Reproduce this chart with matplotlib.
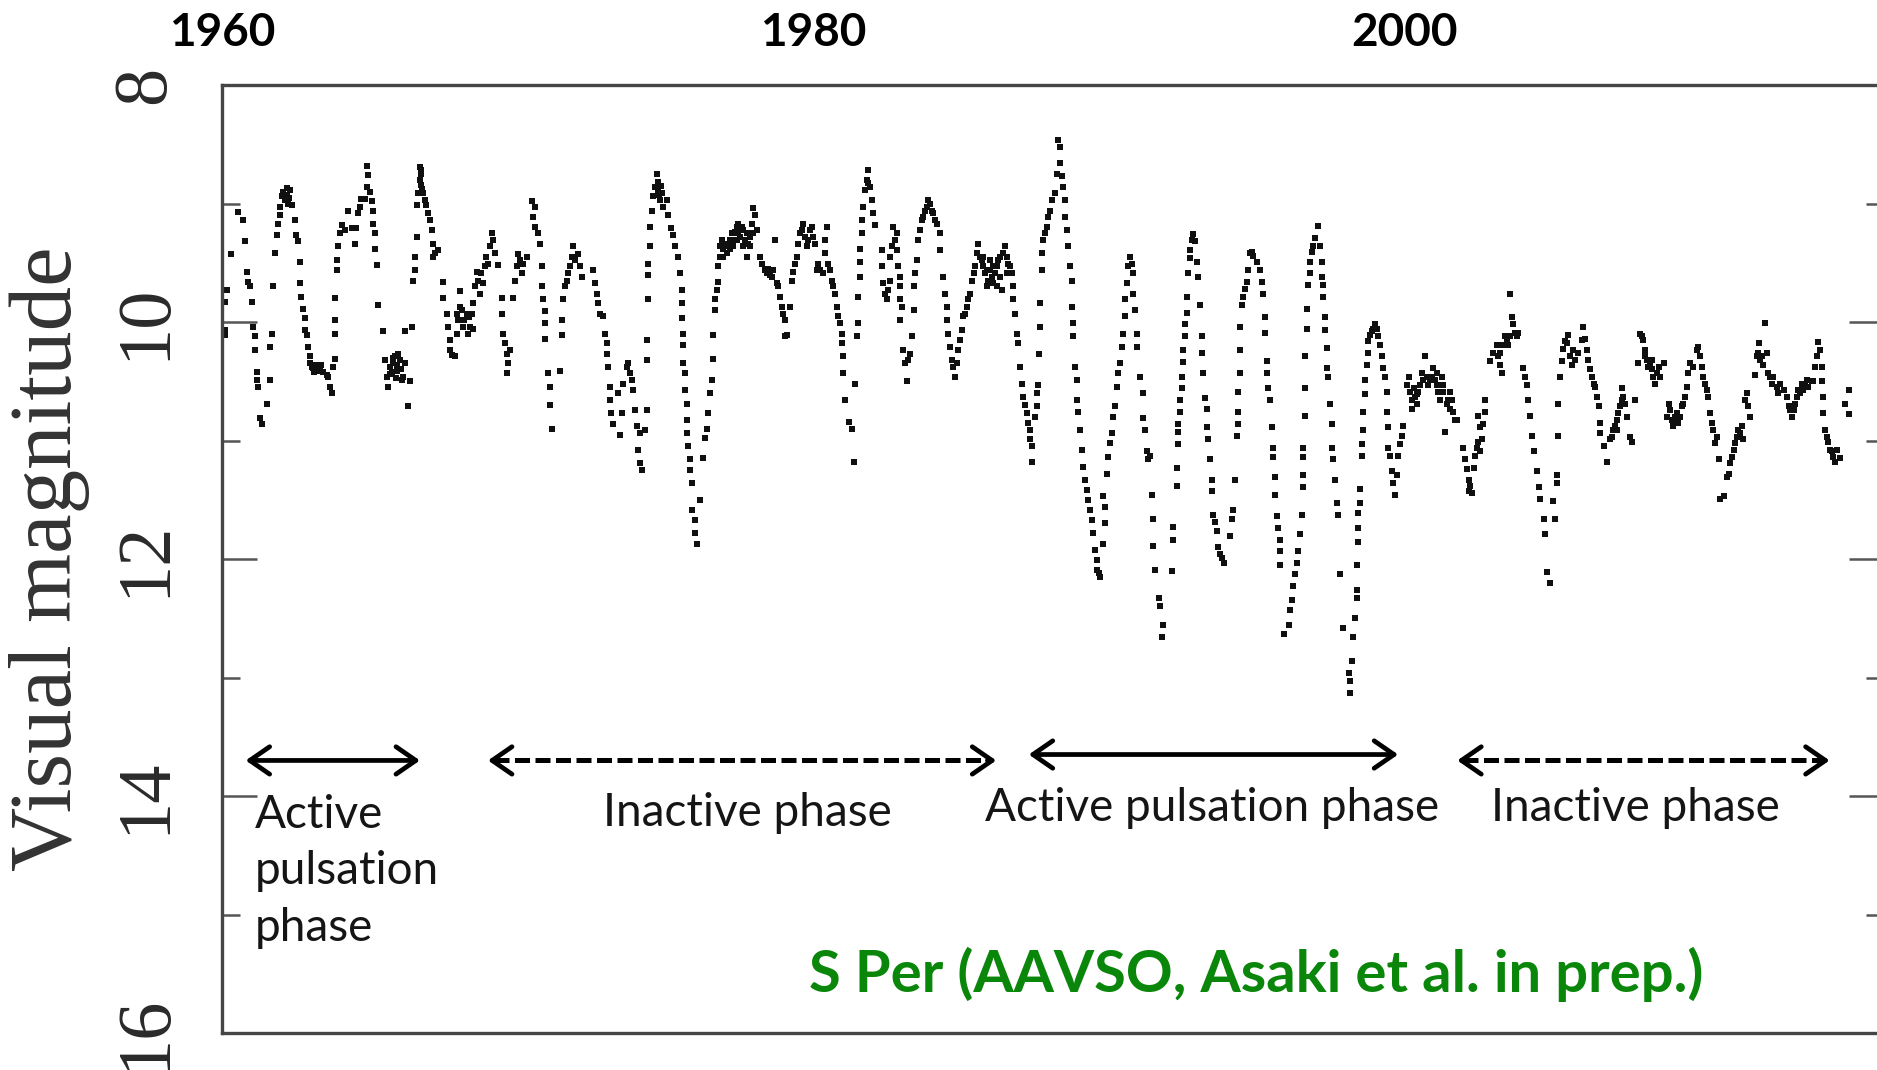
import matplotlib
matplotlib.use("Agg")
import matplotlib.pyplot as plt
import numpy as np

# S Per visual light curve: (year, visual magnitude)
lc_1960 = [
    (1960.10, 9.83), (1960.10, 10.07), (1960.10, 10.11), (1960.16, 9.73), (1960.32, 9.43),
    (1960.55, 9.07), (1960.72, 9.14), (1960.78, 9.32), (1960.83, 9.58), (1960.89, 9.66),
    (1960.95, 9.70), (1961.00, 9.83), (1961.06, 10.04), (1961.11, 10.12), (1961.11, 10.24),
    (1961.17, 10.42), (1961.17, 10.49), (1961.23, 10.55), (1961.28, 10.81), (1961.34, 10.86),
    (1961.51, 10.69), (1961.62, 10.49), (1961.62, 10.21), (1961.68, 10.10), (1961.73, 9.70),
    (1961.79, 9.42), (1961.85, 9.27), (1961.90, 9.17), (1961.96, 9.10), (1961.96, 9.03),
    (1962.02, 8.94), (1962.07, 8.90), (1962.13, 8.97), (1962.19, 8.93), (1962.20, 8.87),
    (1962.24, 9.00), (1962.26, 8.95), (1962.30, 8.89), (1962.36, 9.01), (1962.47, 9.14),
    (1962.52, 9.27), (1962.58, 9.32), (1962.64, 9.49), (1962.64, 9.67), (1962.69, 9.79),
    (1962.75, 9.89), (1962.81, 9.97), (1962.81, 10.07), (1962.86, 10.11), (1962.92, 10.21),
    (1962.98, 10.29), (1962.98, 10.35), (1963.03, 10.38), (1963.09, 10.39), (1963.12, 10.42),
    (1963.14, 10.36), (1963.20, 10.38), (1963.26, 10.39), (1963.31, 10.41), (1963.36, 10.36),
    (1963.43, 10.42), (1963.54, 10.45), (1963.60, 10.46), (1963.65, 10.55), (1963.71, 10.60),
    (1963.77, 10.38), (1963.82, 10.31), (1963.82, 10.10), (1963.82, 9.98), (1963.82, 9.80),
    (1963.88, 9.56), (1963.88, 9.48), (1963.93, 9.36), (1963.99, 9.25), (1964.05, 9.18),
    (1964.16, 9.22), (1964.27, 9.06), (1964.39, 9.21), (1964.50, 9.34), (1964.55, 9.21),
    (1964.61, 9.08), (1964.67, 9.03), (1964.72, 8.96), (1964.84, 8.96), (1964.89, 8.86),
    (1964.95, 8.76), (1964.89, 8.68), (1965.01, 8.90), (1965.06, 8.98), (1965.12, 9.06),
    (1965.12, 9.17), (1965.18, 9.25), (1965.18, 9.38), (1965.23, 9.52), (1965.29, 9.86),
    (1965.46, 10.08), (1965.51, 10.32), (1965.57, 10.46), (1965.63, 10.55), (1965.68, 10.38),
    (1965.70, 10.44), (1965.74, 10.42), (1965.77, 10.30), (1965.80, 10.35), (1965.85, 10.29),
    (1965.88, 10.47), (1965.91, 10.41), (1965.93, 10.36), (1965.96, 10.27), (1966.02, 10.32),
    (1966.05, 10.40), (1966.08, 10.49), (1966.13, 10.46), (1966.19, 10.35), (1966.19, 10.08),
    (1966.30, 10.71), (1966.36, 10.50), (1966.42, 10.04), (1966.47, 9.65), (1966.53, 9.56),
    (1966.53, 9.45), (1966.59, 9.28), (1966.59, 9.01), (1966.64, 8.91), (1966.70, 8.80),
    (1966.70, 8.69), (1966.72, 8.72), (1966.75, 8.75), (1966.75, 8.84), (1966.78, 8.88),
    (1966.81, 8.91), (1966.87, 8.97), (1966.92, 9.01), (1966.98, 9.08), (1967.04, 9.14),
    (1967.09, 9.22), (1967.15, 9.34), (1967.15, 9.45), (1967.21, 9.42), (1967.32, 9.39),
]

lc_1967 = [
    (1967.49, 9.66), (1967.49, 9.80), (1967.60, 9.93), (1967.66, 10.04), (1967.71, 10.15),
    (1967.71, 10.24), (1967.77, 10.28), (1967.88, 10.29), (1967.94, 10.10), (1967.94, 9.93),
    (1967.99, 9.98), (1968.05, 9.87), (1968.05, 9.74), (1968.11, 9.90), (1968.16, 10.04),
    (1968.20, 9.98), (1968.28, 9.93), (1968.33, 10.10), (1968.36, 9.96), (1968.39, 10.04),
    (1968.45, 9.93), (1968.48, 10.06), (1968.50, 9.84), (1968.56, 9.70), (1968.62, 9.58),
    (1968.67, 9.65), (1968.73, 9.76), (1968.78, 9.59), (1968.84, 9.67), (1968.90, 9.53),
    (1968.95, 9.45), (1969.01, 9.51), (1969.07, 9.36), (1969.12, 9.25), (1969.18, 9.31),
    (1969.24, 9.42), (1969.35, 9.52), (1969.46, 9.80), (1969.46, 9.93), (1969.52, 10.10),
    (1969.57, 10.18), (1969.63, 10.27), (1969.69, 10.35), (1969.63, 10.43), (1969.74, 10.24),
    (1969.86, 9.80), (1969.91, 9.65), (1969.97, 9.53), (1970.03, 9.43), (1970.08, 9.48),
    (1970.14, 9.59), (1970.20, 9.51), (1970.31, 9.45), (1970.48, 8.98), (1970.59, 9.03),
    (1970.53, 9.11), (1970.59, 9.20), (1970.70, 9.25), (1970.76, 9.34), (1970.82, 9.53),
    (1970.82, 9.70), (1970.87, 9.81), (1970.93, 9.91), (1970.93, 10.01), (1970.93, 10.14),
    (1971.04, 10.43), (1971.10, 10.55), (1971.10, 10.70), (1971.15, 10.90), (1971.44, 10.41),
    (1971.49, 10.11), (1971.49, 9.98), (1971.55, 9.81), (1971.60, 9.70), (1971.66, 9.65),
    (1971.72, 9.59), (1971.77, 9.53), (1971.83, 9.45), (1971.89, 9.36), (1971.94, 9.48),
    (1972.06, 9.43), (1972.11, 9.53), (1972.17, 9.62), (1972.56, 9.56), (1972.62, 9.67),
    (1972.68, 9.76), (1972.73, 9.84), (1972.79, 9.93), (1972.90, 9.95), (1972.96, 10.10),
    (1973.02, 10.18), (1973.02, 10.27), (1973.07, 10.38), (1973.13, 10.55), (1973.13, 10.66),
    (1973.18, 10.77), (1973.24, 10.86), (1973.41, 10.60), (1973.47, 10.95), (1973.52, 10.77),
    (1973.58, 10.52), (1973.69, 10.38), (1973.75, 10.35), (1973.80, 10.43), (1973.86, 10.49),
    (1973.92, 10.57), (1973.97, 10.74), (1974.03, 10.88), (1974.14, 10.94), (1974.09, 11.08),
    (1974.14, 11.19), (1974.20, 11.25), (1974.31, 10.91), (1974.37, 10.74), (1974.37, 10.32),
    (1974.37, 10.15), (1974.42, 9.81), (1974.42, 9.60), (1974.42, 9.51), (1974.48, 9.36),
    (1974.48, 9.20), (1974.54, 9.06), (1974.59, 8.94), (1974.65, 8.86), (1974.71, 8.75),
    (1974.74, 8.82), (1974.76, 8.89), (1974.80, 8.93), (1974.82, 8.97), (1974.86, 8.85),
    (1974.88, 8.91), (1974.93, 9.03), (1975.05, 8.97), (1975.10, 9.10), (1975.21, 9.21),
    (1975.27, 9.27), (1975.33, 9.36), (1975.44, 9.45), (1975.50, 9.59), (1975.55, 9.73),
    (1975.55, 9.84), (1975.55, 9.97), (1975.61, 10.10), (1975.61, 10.19), (1975.61, 10.35),
    (1975.66, 10.43), (1975.66, 10.57), (1975.72, 10.69), (1975.72, 10.83), (1975.72, 10.94),
    (1975.78, 11.05), (1975.83, 11.16), (1975.83, 11.25), (1975.89, 11.36), (1975.89, 11.59),
    (1976.00, 11.67), (1976.00, 11.78), (1976.06, 11.87), (1976.17, 11.50), (1976.29, 11.15),
    (1976.34, 10.98), (1976.40, 10.90), (1976.46, 10.77), (1976.51, 10.60), (1976.57, 10.49),
]

lc_1977 = [
    (1976.63, 10.31), (1976.63, 10.11), (1976.68, 9.90), (1976.68, 9.81), (1976.74, 9.73),
    (1976.80, 9.66), (1976.80, 9.53), (1976.85, 9.45), (1976.85, 9.36), (1976.91, 9.31),
    (1976.97, 9.38), (1976.97, 9.45), (1977.02, 9.34), (1977.08, 9.42), (1977.13, 9.36),
    (1977.19, 9.31), (1977.19, 9.38), (1977.25, 9.25), (1977.30, 9.31), (1977.30, 9.36),
    (1977.36, 9.24), (1977.42, 9.20), (1977.42, 9.31), (1977.47, 9.25), (1977.47, 9.17),
    (1977.53, 9.28), (1977.59, 9.20), (1977.64, 9.22), (1977.64, 9.36), (1977.70, 9.31),
    (1977.75, 9.25), (1977.75, 9.45), (1977.81, 9.34), (1977.87, 9.28), (1977.87, 9.36),
    (1977.92, 9.17), (1977.98, 9.25), (1977.98, 9.04), (1978.04, 9.10), (1978.09, 9.22),
    (1978.21, 9.45), (1978.26, 9.51), (1978.38, 9.56), (1978.43, 9.59), (1978.49, 9.55),
    (1978.54, 9.60), (1978.60, 9.62), (1978.66, 9.56), (1978.71, 9.31), (1978.77, 9.67),
    (1978.83, 9.70), (1978.88, 9.79), (1978.94, 9.87), (1978.98, 9.93), (1979.05, 9.98),
    (1979.05, 10.12), (1979.11, 10.11), (1979.22, 9.87), (1979.28, 9.65), (1979.33, 9.58),
    (1979.39, 9.51), (1979.45, 9.45), (1979.50, 9.34), (1979.56, 9.25), (1979.62, 9.22),
    (1979.67, 9.17), (1979.73, 9.28), (1979.79, 9.36), (1979.84, 9.31), (1979.90, 9.22),
    (1979.96, 9.20), (1980.01, 9.28), (1980.07, 9.34), (1980.12, 9.56), (1980.18, 9.51),
    (1980.24, 9.56), (1980.35, 9.59), (1980.41, 9.42), (1980.41, 9.31), (1980.46, 9.20),
    (1980.52, 9.51), (1980.58, 9.56), (1980.63, 9.65), (1980.69, 9.70), (1980.74, 9.76),
    (1980.80, 9.87), (1980.86, 9.95), (1980.91, 10.01), (1980.97, 10.10), (1980.97, 10.18),
    (1981.03, 10.29), (1981.03, 10.43), (1981.08, 10.66), (1981.20, 10.84), (1981.31, 10.90),
    (1981.37, 11.18), (1981.42, 10.52), (1981.48, 10.12), (1981.53, 10.01), (1981.53, 9.79),
    (1981.59, 9.62), (1981.59, 9.49), (1981.59, 9.38), (1981.65, 9.25), (1981.65, 9.14),
    (1981.70, 9.03), (1981.76, 8.89), (1981.82, 8.80), (1981.87, 8.72), (1981.87, 8.83),
    (1981.93, 8.86), (1981.98, 8.97), (1982.04, 9.08), (1982.10, 9.18), (1982.32, 9.39),
    (1982.32, 9.53), (1982.38, 9.67), (1982.44, 9.76), (1982.49, 9.81), (1982.55, 9.73),
    (1982.61, 9.65), (1982.61, 9.45), (1982.66, 9.36), (1982.72, 9.20), (1982.78, 9.31),
    (1982.83, 9.25), (1982.83, 9.39), (1982.89, 9.53), (1982.94, 9.62), (1982.94, 9.70),
    (1982.94, 9.81), (1983.00, 9.87), (1982.94, 9.98), (1983.06, 10.24), (1983.11, 10.35),
    (1983.17, 10.50), (1983.23, 10.32), (1983.28, 10.27), (1983.34, 10.12), (1983.40, 9.90),
    (1983.40, 9.70), (1983.45, 9.59), (1983.51, 9.48), (1983.56, 9.31), (1983.62, 9.22),
    (1983.68, 9.14), (1983.73, 9.11), (1983.79, 9.06), (1983.85, 9.03), (1983.90, 8.97),
    (1983.96, 9.00), (1984.02, 9.06), (1984.07, 9.08), (1984.13, 9.14), (1984.18, 9.17),
    (1984.30, 9.25), (1984.30, 9.39), (1984.41, 9.62), (1984.47, 9.76), (1984.52, 9.87),
    (1984.52, 9.98), (1984.58, 10.10), (1984.64, 10.21), (1984.69, 10.32), (1984.75, 10.38),
    (1984.81, 10.46), (1984.86, 10.35), (1984.92, 10.24), (1984.97, 10.15), (1985.03, 10.07),
    (1985.09, 9.95), (1985.14, 9.93), (1985.20, 9.87), (1985.26, 9.81), (1985.31, 9.76),
    (1985.37, 9.65), (1985.43, 9.59), (1985.48, 9.53), (1985.54, 9.42), (1985.59, 9.34),
    (1985.65, 9.45), (1985.71, 9.48), (1985.76, 9.53), (1985.76, 9.45), (1985.82, 9.59),
    (1985.88, 9.70), (1985.88, 9.56), (1985.93, 9.65), (1985.99, 9.56), (1985.99, 9.48),
    (1986.05, 9.62), (1986.10, 9.67), (1986.10, 9.53), (1986.16, 9.59), (1986.22, 9.53),
    (1986.22, 9.70), (1986.27, 9.48), (1986.33, 9.62), (1986.33, 9.45), (1986.38, 9.73),
    (1986.44, 9.42), (1986.50, 9.36), (1986.55, 9.45), (1986.55, 9.59), (1986.61, 9.51),
    (1986.67, 9.53), (1986.72, 9.59), (1986.78, 9.70), (1986.78, 9.81), (1986.84, 9.93),
    (1986.89, 10.10), (1986.95, 10.18), (1987.00, 10.38),
]

lc_1987 = [
    (1987.06, 10.52), (1987.12, 10.63), (1987.17, 10.70), (1987.23, 10.77), (1987.29, 10.85),
    (1987.34, 10.91), (1987.34, 10.99), (1987.40, 11.05), (1987.40, 11.18), (1987.51, 10.80),
    (1987.57, 10.71), (1987.57, 10.60), (1987.62, 10.53), (1987.63, 10.27), (1987.68, 10.04),
    (1987.68, 9.84), (1987.74, 9.56), (1987.74, 9.42), (1987.79, 9.31), (1987.85, 9.25),
    (1987.91, 9.20), (1987.96, 9.11), (1988.02, 9.06), (1988.08, 8.97), (1988.19, 8.91),
    (1988.25, 8.75), (1988.30, 8.46), (1988.36, 8.52), (1988.36, 8.66), (1988.42, 8.77),
    (1988.47, 8.86), (1988.53, 8.97), (1988.53, 9.11), (1988.58, 9.22), (1988.64, 9.36),
    (1988.70, 9.53), (1988.75, 9.65), (1988.75, 9.87), (1988.81, 10.01), (1988.81, 10.12),
    (1988.87, 10.38), (1988.92, 10.49), (1988.94, 10.66), (1988.98, 10.76), (1989.02, 10.91),
    (1989.09, 11.08), (1989.15, 11.22), (1989.20, 11.33), (1989.26, 11.42), (1989.32, 11.50),
    (1989.37, 11.59), (1989.43, 11.67), (1989.49, 11.78), (1989.54, 11.92), (1989.60, 12.01),
    (1989.60, 12.09), (1989.66, 12.12), (1989.71, 12.15), (1989.82, 11.87), (1989.88, 11.70),
    (1989.88, 11.56), (1989.82, 11.47), (1989.94, 11.28), (1989.99, 11.14), (1990.05, 11.02),
    (1990.11, 10.94), (1990.16, 10.80), (1990.22, 10.71), (1990.28, 10.55), (1990.33, 10.43),
    (1990.39, 10.35), (1990.45, 10.21), (1990.50, 10.10), (1990.56, 9.95), (1990.56, 9.81),
    (1990.61, 9.67), (1990.67, 9.53), (1990.73, 9.45), (1990.78, 9.51), (1990.84, 9.59),
    (1990.84, 9.76), (1990.90, 9.90), (1990.95, 10.10), (1990.95, 10.21), (1991.07, 10.46),
    (1991.18, 10.60), (1991.18, 10.81), (1991.24, 10.91), (1991.29, 11.09), (1991.35, 11.16),
]

lc_1991 = [
    (1991.40, 11.13), (1991.46, 11.46), (1991.52, 11.66), (1991.52, 11.89), (1991.57, 12.09),
    (1991.69, 12.33), (1991.74, 12.40), (1991.85, 12.56), (1991.80, 12.66), (1992.14, 12.10),
    (1992.19, 11.84), (1992.19, 11.73), (1992.31, 11.38), (1992.31, 11.23), (1992.36, 11.03),
    (1992.36, 10.93), (1992.36, 10.86), (1992.42, 10.76), (1992.42, 10.66), (1992.48, 10.56),
    (1992.48, 10.46), (1992.53, 10.34), (1992.53, 10.24), (1992.59, 10.12), (1992.59, 10.02),
    (1992.64, 9.92), (1992.64, 9.79), (1992.70, 9.59), (1992.76, 9.46), (1992.76, 9.39),
    (1992.81, 9.31), (1992.87, 9.26), (1992.93, 9.32), (1992.98, 9.49), (1993.04, 9.62),
    (1993.10, 9.86), (1993.15, 10.12), (1993.15, 10.26), (1993.21, 10.43), (1993.27, 10.64),
    (1993.32, 10.73), (1993.32, 10.89), (1993.38, 10.99), (1993.43, 11.16), (1993.49, 11.33),
    (1993.49, 11.43), (1993.55, 11.63), (1993.60, 11.69), (1993.66, 11.76), (1993.72, 11.90),
    (1993.77, 11.96), (1993.83, 11.99), (1993.89, 12.03), (1994.11, 11.81), (1994.17, 11.66),
    (1994.22, 11.59), (1994.28, 11.33), (1994.34, 10.96), (1994.39, 10.86), (1994.39, 10.76),
    (1994.39, 10.59), (1994.45, 10.43), (1994.45, 10.24), (1994.45, 10.04), (1994.51, 9.86),
    (1994.56, 9.79), (1994.62, 9.72), (1994.68, 9.66), (1994.73, 9.56), (1994.79, 9.42),
    (1994.84, 9.41), (1994.90, 9.44), (1995.01, 9.49), (1995.13, 9.56), (1995.18, 9.66),
    (1995.24, 9.76), (1995.30, 9.96), (1995.30, 10.09), (1995.35, 10.33), (1995.35, 10.43),
    (1995.41, 10.56), (1995.46, 10.66), (1995.52, 10.89), (1995.58, 11.06), (1995.58, 11.14),
    (1995.63, 11.31), (1995.63, 11.46), (1995.69, 11.64), (1995.75, 11.74), (1995.80, 11.84),
    (1995.80, 11.93), (1995.80, 12.05), (1995.92, 12.63), (1996.09, 12.56), (1996.14, 12.43),
    (1996.20, 12.35), (1996.25, 12.23), (1996.31, 12.13), (1996.37, 12.03), (1996.42, 11.93),
    (1996.48, 11.79), (1996.54, 11.63), (1996.59, 11.39), (1996.59, 11.29), (1996.59, 11.14),
    (1996.59, 11.06), (1996.65, 10.79), (1996.65, 10.56), (1996.65, 10.29), (1996.71, 10.06),
    (1996.71, 9.89), (1996.76, 9.69), (1996.82, 9.59), (1996.82, 9.49), (1996.88, 9.41),
    (1996.93, 9.36), (1996.99, 9.29), (1997.10, 9.19), (1997.16, 9.36), (1997.21, 9.49),
    (1997.21, 9.62), (1997.27, 9.69), (1997.27, 9.79), (1997.33, 9.96), (1997.33, 10.07),
    (1997.38, 10.22), (1997.38, 10.39), (1997.44, 10.46), (1997.50, 10.69), (1997.55, 10.86),
    (1997.55, 11.06), (1997.61, 11.16), (1997.66, 11.33), (1997.72, 11.53), (1997.78, 11.63),
    (1997.83, 12.13), (1997.95, 12.58), (1998.12, 12.96), (1998.17, 13.03), (1998.23, 12.86),
    (1998.17, 13.13), (1998.28, 12.66), (1998.34, 12.50), (1998.40, 12.33), (1998.40, 12.26),
    (1998.40, 12.05), (1998.45, 11.86), (1998.45, 11.74), (1998.45, 11.61), (1998.51, 11.53),
    (1998.51, 11.41), (1998.57, 11.13), (1998.57, 11.03), (1998.62, 10.91), (1998.62, 10.76),
    (1998.68, 10.61), (1998.68, 10.49), (1998.74, 10.36), (1998.79, 10.26), (1998.79, 10.16),
    (1998.85, 10.11), (1998.91, 10.08), (1998.96, 10.06),
]

lc_1999 = [
    (1999.02, 10.02), (1999.07, 10.06), (1999.13, 10.12), (1999.19, 10.19), (1999.24, 10.29),
    (1999.30, 10.39), (1999.36, 10.46), (1999.41, 10.59), (1999.41, 10.76), (1999.47, 10.89),
    (1999.47, 11.06), (1999.53, 11.13), (1999.58, 11.26), (1999.64, 11.36), (1999.69, 11.46),
    (1999.75, 11.29), (1999.81, 11.13), (1999.86, 11.03), (1999.92, 10.96), (1999.98, 10.88),
    (2000.09, 10.53), (2000.15, 10.46), (2000.20, 10.59), (2000.26, 10.66), (2000.26, 10.73),
    (2000.32, 10.56), (2000.37, 10.63), (2000.43, 10.69), (2000.43, 10.61), (2000.48, 10.59),
    (2000.54, 10.53), (2000.60, 10.43), (2000.65, 10.49), (2000.71, 10.29), (2000.77, 10.46),
    (2000.82, 10.53), (2000.88, 10.49), (2000.94, 10.46), (2000.99, 10.39), (2001.05, 10.49),
    (2001.11, 10.53), (2001.11, 10.43), (2001.16, 10.59), (2001.22, 10.66), (2001.27, 10.46),
    (2001.33, 10.59), (2001.33, 10.53), (2001.39, 10.93), (2001.44, 10.69), (2001.50, 10.66),
    (2001.56, 10.73), (2001.56, 10.59), (2001.61, 10.66), (2001.67, 10.76), (2001.73, 10.83),
    (2001.78, 10.83), (2002.01, 11.06), (2002.06, 11.16), (2002.12, 11.24), (2002.18, 11.33),
    (2002.18, 11.43), (2002.23, 11.38), (2002.29, 11.44), (2002.35, 11.23), (2002.40, 11.13),
    (2002.46, 11.06), (2002.51, 11.01), (2002.51, 10.79), (2002.57, 11.09), (2002.57, 10.89),
    (2002.63, 10.99), (2002.68, 10.86), (2002.74, 10.76), (2002.74, 10.66), (2002.91, 10.33),
    (2003.02, 10.26), (2003.14, 10.19), (2003.19, 10.29), (2003.25, 10.36), (2003.25, 10.26),
    (2003.31, 10.43), (2003.36, 10.19), (2003.42, 10.12), (2003.47, 10.16), (2003.53, 10.19),
    (2003.59, 10.12), (2003.59, 9.76), (2003.64, 9.96), (2003.70, 10.02), (2003.76, 10.09),
    (2003.81, 10.12), (2003.87, 10.09), (2004.04, 10.39), (2004.10, 10.46), (2004.15, 10.53),
    (2004.21, 10.66), (2004.26, 10.79), (2004.32, 10.96), (2004.38, 11.09), (2004.49, 11.26),
    (2004.55, 11.39), (2004.60, 11.49), (2004.72, 11.66), (2004.77, 11.79), (2004.83, 12.11),
    (2004.94, 12.20), (2005.05, 11.51), (2005.11, 11.66), (2005.17, 11.36), (2005.17, 11.29),
    (2005.22, 10.96), (2005.22, 10.69), (2005.28, 10.46), (2005.34, 10.33), (2005.39, 10.23),
    (2005.45, 10.16),
]

lc_2005 = [
    (2005.50, 10.18), (2005.56, 10.11), (2005.62, 10.29), (2005.67, 10.36), (2005.73, 10.24),
    (2005.79, 10.32), (2005.90, 10.26), (2006.01, 10.15), (2006.07, 10.04), (2006.13, 10.14),
    (2006.18, 10.24), (2006.24, 10.32), (2006.29, 10.40), (2006.35, 10.46), (2006.41, 10.52),
    (2006.46, 10.55), (2006.52, 10.63), (2006.58, 10.71), (2006.63, 10.85), (2006.63, 10.94),
    (2006.75, 11.05), (2006.86, 11.18), (2006.97, 10.99), (2007.03, 10.97), (2007.08, 10.91),
    (2007.14, 10.88), (2007.20, 10.83), (2007.20, 10.91), (2007.25, 10.77), (2007.31, 10.71),
    (2007.37, 10.66), (2007.37, 10.56), (2007.42, 10.63), (2007.48, 10.69), (2007.54, 10.80),
    (2007.65, 10.97), (2007.70, 11.01), (2007.82, 10.66), (2007.93, 10.35), (2007.99, 10.10),
    (2008.04, 10.12), (2008.10, 10.15), (2008.16, 10.24), (2008.16, 10.29), (2008.21, 10.32),
    (2008.27, 10.38), (2008.33, 10.35), (2008.38, 10.40), (2008.38, 10.32), (2008.44, 10.46),
    (2008.49, 10.52), (2008.55, 10.43), (2008.61, 10.38), (2008.66, 10.46), (2008.78, 10.35),
    (2008.89, 10.80), (2008.95, 10.69), (2009.00, 10.74), (2009.06, 10.83), (2009.11, 10.88),
    (2009.17, 10.80), (2009.23, 10.77), (2009.28, 10.85), (2009.34, 10.80), (2009.40, 10.71),
    (2009.45, 10.69), (2009.51, 10.63), (2009.57, 10.55), (2009.62, 10.43), (2009.68, 10.35),
    (2009.79, 10.38), (2009.90, 10.24), (2009.96, 10.21), (2010.02, 10.29), (2010.07, 10.38),
    (2010.13, 10.46), (2010.19, 10.52), (2010.24, 10.57), (2010.30, 10.63), (2010.36, 10.77),
    (2010.41, 10.85), (2010.47, 10.91), (2010.52, 11.02), (2010.58, 10.97), (2010.64, 11.16),
    (2010.69, 11.49), (2010.81, 11.47), (2010.92, 11.31), (2011.00, 11.28), (2011.03, 11.19),
    (2011.09, 11.14), (2011.15, 11.08), (2011.20, 11.02), (2011.26, 10.97), (2011.31, 10.91),
    (2011.37, 10.94), (2011.43, 10.88), (2011.48, 10.99), (2011.54, 10.66), (2011.60, 10.60),
    (2011.65, 10.71), (2011.71, 10.80), (2011.88, 10.45), (2011.93, 10.29), (2011.99, 10.26),
    (2012.02, 10.18), (2012.05, 10.32), (2012.10, 10.29), (2012.16, 10.36), (2012.22, 10.01),
    (2012.27, 10.26), (2012.33, 10.43), (2012.39, 10.46), (2012.44, 10.52), (2012.50, 10.46),
    (2012.61, 10.55), (2012.67, 10.60), (2012.72, 10.52), (2012.84, 10.57), (2012.95, 10.63),
    (2013.01, 10.71), (2013.06, 10.74), (2013.12, 10.80), (2013.18, 10.74), (2013.23, 10.69),
    (2013.29, 10.63), (2013.34, 10.57), (2013.40, 10.60), (2013.46, 10.52), (2013.51, 10.57),
    (2013.57, 10.52), (2013.63, 10.49), (2013.68, 10.55), (2013.80, 10.50), (2013.85, 10.50),
    (2013.91, 10.38), (2013.96, 10.29), (2014.02, 10.17), (2014.08, 10.24), (2014.13, 10.38),
    (2014.13, 10.50), (2014.19, 10.63), (2014.19, 10.77), (2014.25, 10.91), (2014.30, 10.97),
    (2014.36, 11.01), (2014.42, 11.08), (2014.47, 11.09), (2014.53, 11.14), (2014.59, 11.18),
    (2014.64, 11.08), (2014.76, 11.15), (2014.93, 10.69), (2015.04, 10.57), (2015.04, 10.78),
]

segments = [lc_1960, lc_1967, lc_1977, lc_1987, lc_1991, lc_1999, lc_2005]
points = np.array([p for seg in segments for p in seg])
years = points[:, 0]
mags = points[:, 1]

year_ticks = [1960, 1980, 2000]
mag_ticks = [8, 10, 12, 14, 16]
mag_minor = [9, 11, 13, 15]

# phase arrows (years) and their captions
phase_start = [1960.8, 1969.0, 1987.3, 2001.8]
phase_end = [1966.7, 1986.2, 1999.8, 2014.4]
phase_solid = [True, False, True, False]
phase_mag = [13.70, 13.70, 13.65, 13.70]
phase_text = ["Active\npulsation\nphase", "Inactive phase", "Active pulsation phase", "Inactive phase"]
text_x = [1961.12, 1977.77, 1993.50, 2007.82]
text_mag = [15.22, 14.25, 14.21, 14.21]   # baseline of the last line
text_ha = ["left", "center", "center", "center"]

W, H = 1877, 1070
fig = plt.figure(figsize=(W / 100, H / 100), dpi=100)
ax = fig.add_axes([222 / W, 37 / H, 1662 / W, 948 / H])

ax.scatter(years, mags, s=14, marker="s", color="#101010", linewidths=0)

ax.set_xlim(1960, 2016.24)
ax.set_ylim(16, 8)

for sp in ax.spines.values():
    sp.set_color("#454545")
    sp.set_linewidth(2.4)

# years on top, no tick marks
ax.xaxis.tick_top()
ax.set_xticks(year_ticks)
ax.tick_params(axis="x", length=0, pad=22, labelsize=33, labelfontfamily="Lato")
for lbl in ax.get_xticklabels():
    lbl.set_fontweight("bold")

ax.set_yticks(mag_ticks)
ax.set_yticks(mag_minor, minor=True)
ax.tick_params(axis="y", which="both", direction="in", left=True, right=True,
               color="#555555", width=1.8)
ax.tick_params(axis="y", which="major", length=25, pad=30, labelsize=55,
               labelrotation=90, labelfontfamily="Liberation Serif", labelcolor="#2a2a2a")
ax.tick_params(axis="y", which="minor", length=13)
for lbl in ax.get_yticklabels():
    lbl.set_va("center")

fig.text(50 / W, 1 - 559 / H, "Visual magnitude", rotation=90, ha="center", va="center",
         family="Liberation Serif", fontsize=64, color="#333333")

head = "head_length=0.55,head_width=0.38"
for x0, x1, y, solid in zip(phase_start, phase_end, phase_mag, phase_solid):
    if solid:
        ax.annotate("", xy=(x1, y), xytext=(x0, y),
                    arrowprops=dict(arrowstyle="<->," + head, lw=3.4, color="black",
                                    shrinkA=0, shrinkB=0, mutation_scale=26))
    else:
        ax.plot([x0 + 0.2, x1 - 0.2], [y, y], ls=(0, (3.0, 1.1)), lw=3.6, color="black")
        for tip, back in [(x1, x1 - 0.3), (x0, x0 + 0.3)]:
            ax.annotate("", xy=(tip, y), xytext=(back, y),
                        arrowprops=dict(arrowstyle="->," + head, lw=3.4, color="black",
                                        shrinkA=0, shrinkB=0, mutation_scale=26))

for label, x, y, ha in zip(phase_text, text_x, text_mag, text_ha):
    ax.text(x, y, label, ha=ha, va="baseline", fontsize=33, family="Lato",
            color="#151515", linespacing=1.42)

ax.text(1979.86, 15.65, "S Per (AAVSO, Asaki et al. in prep.)", ha="left", va="baseline",
        fontsize=41.8, fontweight="bold", family="Lato", color="#0a860a")

fig.savefig("out.png", dpi=100)
